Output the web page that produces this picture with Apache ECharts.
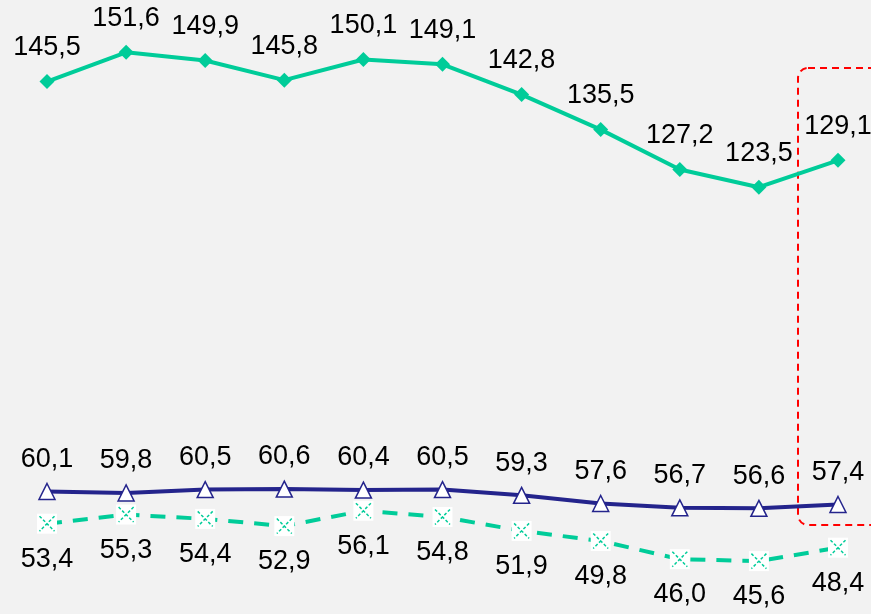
<!DOCTYPE html>
<html lang="en">
<head>
    <meta charset="UTF-8">
    <title>Line chart</title>
    <style>
        html, body {
            margin: 0;
            padding: 0;
            width: 100%;
            height: 100%;
            overflow: hidden;
            background: #f2f2f2;
        }
        #main {
            width: 871px;
            height: 614px;
        }
    </style>
</head>
<body>
<div id="main"></div>

<script src="https://cdn.jsdelivr.net/npm/echarts@6/dist/echarts.min.js"></script>
<script>
    // data
    var categories = ['1', '2', '3', '4', '5', '6', '7', '8', '9', '10', '11'];
    var topValues = [145.5, 151.6, 149.9, 145.8, 150.1, 149.1, 142.8, 135.5, 127.2, 123.5, 129.1];
    var midValues = [60.1, 59.8, 60.5, 60.6, 60.4, 60.5, 59.3, 57.6, 56.7, 56.6, 57.4];
    var lowValues = [53.4, 55.3, 54.4, 52.9, 56.1, 54.8, 51.9, 49.8, 46.0, 45.6, 48.4];

    var green = '#00cc99';
    var navy = '#24248c';

    function fmt(p) {
        return p.value.toFixed(1).replace('.', ',');
    }

    var labelStyle = {
        show: true,
        formatter: fmt,
        color: '#000',
        fontSize: 27,
        fontFamily: 'Liberation Sans, Arial, sans-serif'
    };

    var chart = echarts.init(document.getElementById('main'));

    var option = {
        backgroundColor: '#f2f2f2',
        animation: false,
        grid: {
            left: 47,
            right: 33,
            top: 12,
            bottom: 26
        },
        xAxis: {
            type: 'category',
            data: categories,
            boundaryGap: false,
            show: false
        },
        yAxis: {
            type: 'value',
            min: 40,
            max: 160,
            show: false
        },
        series: [{
            name: 'top',
            type: 'line',
            data: topValues,
            symbol: 'diamond',
            symbolSize: 15,
            itemStyle: { color: green },
            lineStyle: { color: green, width: 4 },
            label: Object.assign({}, labelStyle, { position: 'top', distance: 13 }),
            z: 3
        }, {
            name: 'mid',
            type: 'line',
            data: midValues,
            symbol: 'triangle',
            symbolSize: 16,
            itemStyle: { color: '#fff', borderColor: navy, borderWidth: 1.5 },
            lineStyle: { color: navy, width: 4 },
            label: Object.assign({}, labelStyle, { position: 'top', distance: 10 }),
            z: 3
        }, {
            name: 'low',
            type: 'line',
            data: lowValues,
            symbol: 'rect',
            symbolSize: 20,
            itemStyle: { color: '#fff', borderWidth: 0 },
            lineStyle: { color: green, width: 4, type: [15, 11] },
            label: Object.assign({}, labelStyle, { position: 'bottom', distance: 12 }),
            z: 2
        }, {
            // the little x drawn inside the white squares
            name: 'lowMark',
            type: 'line',
            data: lowValues,
            symbol: 'path://M0,0L10,10M10,0L0,10',
            symbolSize: 15,
            lineStyle: { opacity: 0 },
            itemStyle: {
                color: 'none',
                borderColor: green,
                borderWidth: 1.5,
                borderType: [3, 2]
            },
            silent: true,
            z: 4
        }]
    };

    chart.setOption(option);

    // red dashed frame round the last point
    var last = categories.length - 1;
    var px = chart.convertToPixel({ seriesIndex: 0 }, [last, topValues[last]]);
    var frameLeft = px[0] - 40;
    chart.setOption({
        graphic: [{
            type: 'rect',
            shape: { x: frameLeft, y: 68, width: 120, height: 457, r: 10 },
            style: {
                fill: 'none',
                stroke: '#ff0000',
                lineWidth: 2,
                lineDash: [7, 5]
            },
            z: 1
        }]
    });
</script>
</body>
</html>
